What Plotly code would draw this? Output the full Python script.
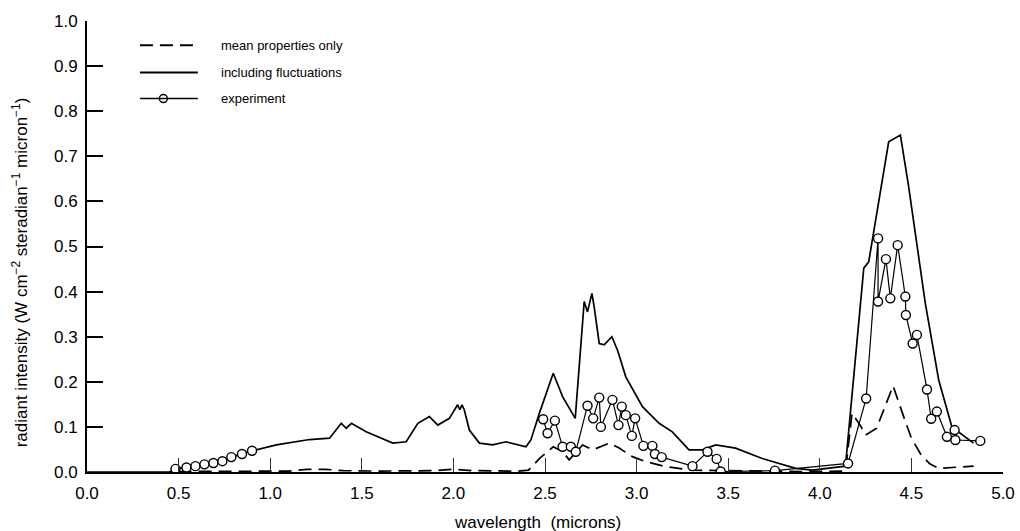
import plotly.graph_objects as go

# Calculated spectrum using mean properties only (microns, W cm^-2 sr^-1 micron^-1)
mean_x = [0.5, 0.8, 1.1, 1.2, 1.3, 1.4, 1.6, 1.9, 2.0, 2.1, 2.35, 2.41, 2.47, 2.545,
          2.596, 2.632, 2.705, 2.76, 2.85, 2.905, 2.977, 3.05, 3.159, 3.30, 3.6, 3.9,
          4.14, 4.176, 4.22, 4.25, 4.31, 4.40, 4.46, 4.50, 4.55, 4.60, 4.65, 4.84]
mean_y = [0.001, 0.001, 0.002, 0.006, 0.006, 0.003, 0.002, 0.003, 0.006, 0.003, 0.002,
          0.004, 0.030, 0.056, 0.045, 0.027, 0.060, 0.049, 0.064, 0.053, 0.034, 0.023,
          0.012, 0.004, 0.002, 0.001, 0.002, 0.130, 0.104, 0.082, 0.097, 0.191, 0.120,
          0.075, 0.040, 0.018, 0.008, 0.013]

# Calculated spectrum including turbulent fluctuations
fluct_x = [0.0, 0.45, 0.483, 0.543, 0.592, 0.641, 0.69, 0.739, 0.788, 0.846, 0.901,
           1.034, 1.215, 1.324, 1.388, 1.415, 1.443, 1.524, 1.669, 1.742, 1.806, 1.869,
           1.915, 1.978, 2.023, 2.035, 2.047, 2.06, 2.087, 2.142, 2.214, 2.287, 2.396,
           2.423, 2.469, 2.545, 2.596, 2.665, 2.714, 2.732, 2.756, 2.768, 2.796, 2.823,
           2.865, 2.896, 2.941, 3.032, 3.123, 3.195, 3.286, 3.359, 3.432, 3.54, 3.686,
           3.868, 3.96, 4.14, 4.24, 4.267, 4.376, 4.44, 4.485, 4.576, 4.649, 4.721, 4.839]
fluct_y = [0.0, 0.0, 0.007, 0.010, 0.013, 0.017, 0.020, 0.024, 0.033, 0.040, 0.047,
           0.060, 0.072, 0.075, 0.108, 0.097, 0.108, 0.089, 0.064, 0.067, 0.108, 0.123,
           0.104, 0.119, 0.149, 0.138, 0.149, 0.137, 0.093, 0.064, 0.060, 0.067, 0.056,
           0.071, 0.130, 0.219, 0.167, 0.119, 0.378, 0.355, 0.396, 0.367, 0.285, 0.282,
           0.300, 0.270, 0.211, 0.145, 0.108, 0.089, 0.049, 0.049, 0.060, 0.053, 0.030,
           0.008, 0.004, 0.013, 0.452, 0.466, 0.732, 0.747, 0.633, 0.374, 0.204, 0.100,
           0.064]

# Measured spectrum (None separates the two measured bands)
exp_x = [0.483, 0.543, 0.592, 0.641, 0.690, 0.739, 0.788, 0.846, 0.901, None,
         2.49, 2.514, 2.554, 2.596, 2.641, 2.668, 2.732, 2.763, 2.796, 2.805, 2.868,
         2.901, 2.919, 2.941, 2.974, 2.992, 3.037, 3.086, 3.10, 3.137, 3.305, 3.387,
         3.437, 3.459, 3.755, 4.154, 4.253, 4.318, 4.318, 4.361, 4.385, 4.425, 4.467,
         4.47, 4.507, 4.53, 4.585, 4.608, 4.639, 4.694, 4.736, 4.74, 4.876]
exp_y = [0.007, 0.010, 0.013, 0.017, 0.020, 0.024, 0.033, 0.040, 0.047, None,
         0.117, 0.086, 0.114, 0.056, 0.056, 0.045, 0.147, 0.119, 0.165, 0.100, 0.160,
         0.104, 0.145, 0.126, 0.080, 0.119, 0.058, 0.058, 0.040, 0.033, 0.013, 0.045,
         0.029, 0.001, 0.003, 0.019, 0.163, 0.518, 0.378, 0.472, 0.385, 0.503, 0.389,
         0.348, 0.285, 0.304, 0.183, 0.118, 0.134, 0.078, 0.093, 0.071, 0.069]

x_ticks = [0.0, 0.5, 1.0, 1.5, 2.0, 2.5, 3.0, 3.5, 4.0, 4.5, 5.0]
y_ticks = [0.0, 0.1, 0.2, 0.3, 0.4, 0.5, 0.6, 0.7, 0.8, 0.9, 1.0]

legend_labels = ["mean properties only", "including fluctuations", "experiment"]
x_title = "wavelength  (microns)"
y_title = ("radiant intensity (W cm<sup>\u22122</sup> steradian<sup>\u22121</sup> "
           "micron<sup>\u22121</sup>)")

FONT = "Liberation Sans, Arial, Helvetica, sans-serif"
DASH = "13px,7px"

fig = go.Figure()

fig.add_trace(go.Scatter(x=mean_x, y=mean_y, mode="lines",
                         line=dict(color="black", width=1.7, dash=DASH),
                         name=legend_labels[0], showlegend=False))
fig.add_trace(go.Scatter(x=fluct_x, y=fluct_y, mode="lines",
                         line=dict(color="black", width=1.7),
                         name=legend_labels[1], showlegend=False))
fig.add_trace(go.Scatter(x=exp_x, y=exp_y, mode="lines+markers",
                         line=dict(color="black", width=1.2),
                         marker=dict(symbol="circle", size=9, color="white",
                                     line=dict(color="black", width=1.4)),
                         connectgaps=False,
                         name=legend_labels[2], showlegend=False))

# Key drawn in the upper-left corner of the plotting area
key_x0, key_x1, key_tx = 0.289, 0.605, 0.72
key_rows = [0.946, 0.886, 0.828]
fig.add_shape(type="line", xref="x", yref="y", x0=key_x0, x1=key_x1,
              y0=key_rows[0], y1=key_rows[0],
              line=dict(color="black", width=2, dash=DASH))
fig.add_shape(type="line", xref="x", yref="y", x0=key_x0, x1=key_x1,
              y0=key_rows[1], y1=key_rows[1], line=dict(color="black", width=2))
fig.add_shape(type="line", xref="x", yref="y", x0=key_x0, x1=key_x1,
              y0=key_rows[2], y1=key_rows[2], line=dict(color="black", width=1.4))
fig.add_trace(go.Scatter(x=[(key_x0 + key_x1) / 2 - 0.03], y=[key_rows[2]],
                         mode="markers", showlegend=False, hoverinfo="skip",
                         marker=dict(symbol="circle", size=8, color="white",
                                     line=dict(color="black", width=1.4))))
for label, ry in zip(legend_labels, key_rows):
    fig.add_annotation(x=key_tx, y=ry, xref="x", yref="y", text=label,
                       showarrow=False, xanchor="left", yanchor="middle",
                       font=dict(family=FONT, size=13, color="black"))

# Axis titles placed as annotations for exact positioning
fig.add_annotation(x=-0.073, y=0.443, xref="paper", yref="paper", text=y_title,
                   textangle=-90, showarrow=False, xanchor="center", yanchor="middle",
                   font=dict(family=FONT, size=17, color="black"))
fig.add_annotation(x=0.492, y=-0.111, xref="paper", yref="paper", text=x_title,
                   showarrow=False, xanchor="center", yanchor="middle",
                   font=dict(family=FONT, size=17, color="black"))

fig.update_layout(
    width=1020, height=531,
    margin=dict(l=87, r=17, t=21, b=59, autoexpand=False),
    paper_bgcolor="white", plot_bgcolor="white",
    font=dict(family=FONT, color="black"),
    showlegend=False,
)

fig.update_xaxes(
    range=[0, 5], tickvals=x_ticks, ticktext=[f"{v:.1f}" for v in x_ticks],
    ticks="inside", ticklen=14, tickwidth=1, tickcolor="#333",
    showline=True, linecolor="black", linewidth=2, showgrid=False, zeroline=False,
    tickfont=dict(family=FONT, size=17), ticklabelstandoff=5, automargin=False,
)
fig.update_yaxes(
    range=[0, 1], tickvals=y_ticks, ticktext=[f"{v:.1f}" for v in y_ticks],
    ticks="inside", ticklen=16, tickwidth=1.5, tickcolor="black",
    showline=True, linecolor="black", linewidth=2, showgrid=False, zeroline=False,
    tickfont=dict(family=FONT, size=17), ticklabelstandoff=4, automargin=False,
)

fig.write_html("out.html")
